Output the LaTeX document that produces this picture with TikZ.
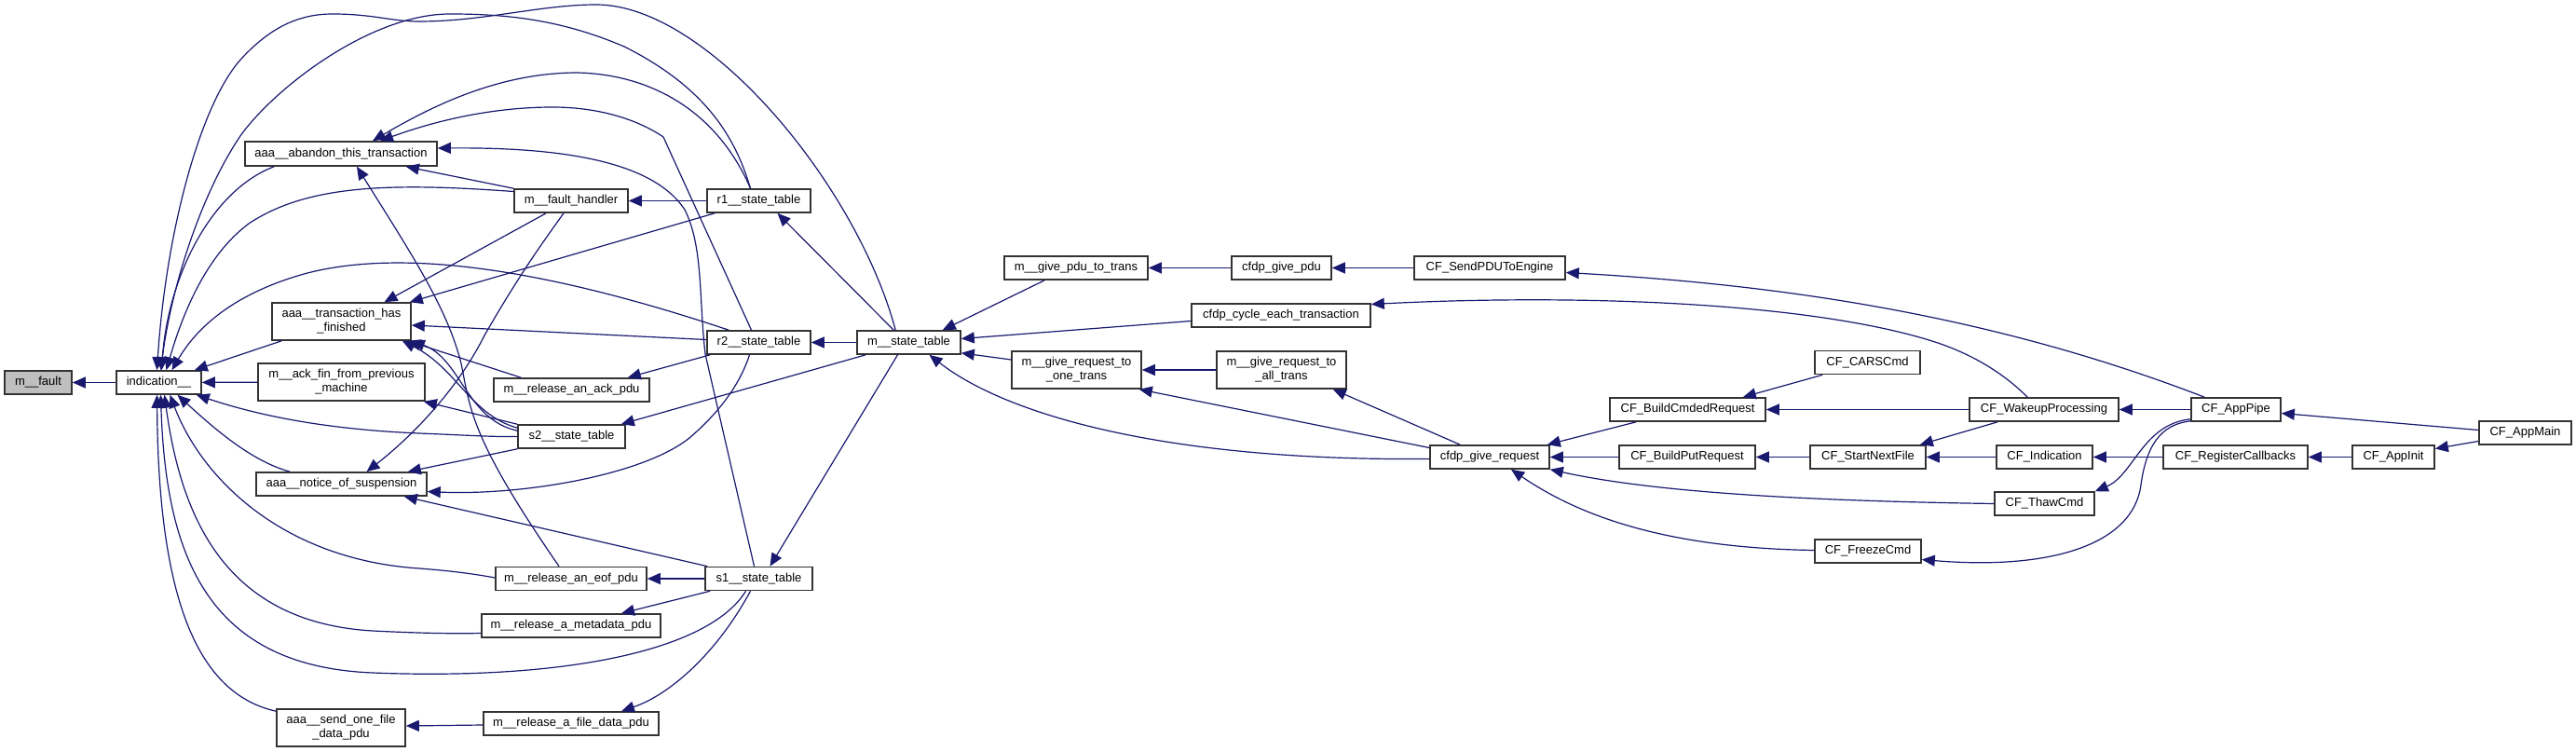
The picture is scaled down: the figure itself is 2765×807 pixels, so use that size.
\documentclass[tikz,border=0pt]{standalone}
\usepackage{fontspec}
\setmainfont{Liberation Sans}
\usetikzlibrary{arrows.meta,calc}
\definecolor{edgecol}{HTML}{191970}
\definecolor{boxline}{HTML}{333333}
\begin{document}
\begin{tikzpicture}[x=0.5pt,y=-0.5pt,
  box/.style={draw=boxline, fill=white, line width=0.8pt, inner sep=0pt,
    minimum height=12.5pt, align=center,
    font=\fontsize{6.5pt}{7.5pt}\selectfont},
  two/.style={minimum height=20pt},
  e/.style={draw=edgecol, line width=0.6pt, {Triangle[length=7pt,width=6pt]}-}]
\useasboundingbox[fill=white] (0,0) rectangle (2765,807);

% nodes
\node[box, minimum width=36pt, fill=gray!50] (fault) at (41,410.5) {m\_\_fault};
\node[box, minimum width=45.5pt] (ind) at (170.5,410.5) {indication\_\_};
\node[box, minimum width=103pt, minimum height=13pt] (abandon) at (366,165) {aaa\_\_abandon\_this\_transaction};
\node[box, two, minimum width=74.5pt] (thf) at (366.5,345) {aaa\_\_transaction\_has\\\_finished};
\node[box, two, minimum width=89.5pt] (ackfin) at (366.5,410) {m\_\_ack\_fin\_from\_previous\\\_machine};
\node[box, minimum width=91.5pt] (notice) at (366.5,519.5) {aaa\_\_notice\_of\_suspension};
\node[box, two, minimum width=69pt] (sendone) at (366,781) {aaa\_\_send\_one\_file\\\_data\_pdu};
\node[box, minimum width=61pt] (faulth) at (613,215.5) {m\_\_fault\_handler};
\node[box, minimum width=83.5pt] (ackpdu) at (613.5,418.5) {m\_\_release\_an\_ack\_pdu};
\node[box, minimum width=57.5pt] (s2) at (613.5,468.5) {s2\_\_state\_table};
\node[box, minimum width=81pt] (eofpdu) at (613,621) {m\_\_release\_an\_eof\_pdu};
\node[box, minimum width=96pt] (metapdu) at (613,671.5) {m\_\_release\_a\_metadata\_pdu};
\node[box, minimum width=94pt] (filepdu) at (613,776.5) {m\_\_release\_a\_file\_data\_pdu};
\node[box, minimum width=55.5pt] (r1) at (814.5,215.5) {r1\_\_state\_table};
\node[box, minimum width=55.5pt] (r2) at (814.5,367.5) {r2\_\_state\_table};
\node[box, minimum width=57.5pt] (s1) at (814.5,621) {s1\_\_state\_table};
\node[box, minimum width=55.5pt] (mst) at (975.5,367.5) {m\_\_state\_table};
\node[box, minimum width=77pt] (givepdu) at (1155,287.5) {m\_\_give\_pdu\_to\_trans};
\node[box, two, minimum width=69.5pt] (onetrans) at (1155.5,397) {m\_\_give\_request\_to\\\_one\_trans};
\node[box, minimum width=53.5pt] (cfdppdu) at (1375.5,287.5) {cfdp\_give\_pdu};
\node[box, minimum width=96pt] (cycle) at (1375,338.5) {cfdp\_cycle\_each\_transaction};
\node[box, two, minimum width=69.5pt] (alltrans) at (1375.5,397) {m\_\_give\_request\_to\\\_all\_trans};
\node[box, minimum width=81pt] (sendpdu) at (1599,287.5) {CF\_SendPDUToEngine};
\node[box, minimum width=64pt] (givereq) at (1599,490.5) {cfdp\_give\_request};
\node[box, minimum width=83.5pt] (buildcmd) at (1811.5,439.5) {CF\_BuildCmdedRequest};
\node[box, minimum width=73pt] (buildput) at (1811,490.5) {CF\_BuildPutRequest};
\node[box, minimum width=56.5pt] (cars) at (2004.5,389) {CF\_CARSCmd};
\node[box, minimum width=62pt] (startnext) at (2005,490.5) {CF\_StartNextFile};
\node[box, minimum width=57pt] (freeze) at (2005,591.5) {CF\_FreezeCmd};
\node[box, minimum width=80pt] (wakeup) at (2194,439.5) {CF\_WakeupProcessing};
\node[box, minimum width=51.5pt] (indCF) at (2194.5,490.5) {CF\_Indication};
\node[box, minimum width=53.5pt] (thaw) at (2194.5,540.5) {CF\_ThawCmd};
\node[box, minimum width=48pt] (apppipe) at (2400,439.5) {CF\_AppPipe};
\node[box, minimum width=77.5pt] (regcb) at (2399.5,490.5) {CF\_RegisterCallbacks};
\node[box, minimum width=44pt] (appinit) at (2569,490.5) {CF\_AppInit};
\node[box, minimum width=49.5pt] (appmain) at (2710.5,464.5) {CF\_AppMain};

% edges (arrow at the callee)
\draw[e] (fault) -- (ind);
\draw[e] (ind) -- (ackfin);
\draw[e] ($(ind.north)+(3,0)$) .. controls (180,300) and (225,205) .. ($(abandon.south west)+(32,0)$);
\draw[e] ($(ind.north east)+(-8,0)$) -- ($(thf.south west)+(11,0)$);
\draw[e] ($(ind.north)+(8,0)$) .. controls (195,340) and (220,275) .. (267,240) .. controls (330,198) and (420,196) .. ($(faulth.west)+(0,-10)$);
\draw[e] ($(ind.north)+(14,0)$) .. controls (215,345) and (260,312) .. (330,293) .. controls (420,270) and (560,280) .. ($(r2.north west)+(24,0)$);
\draw[e] ($(ind.north)+(-2,0)$) .. controls (178,250) and (215,110) .. (260,62) .. controls (290,30) and (320,15) .. (357,15) .. controls (400,15) and (420,23) .. (450,23) .. controls (520,23) and (580,5) .. (640,5) .. controls (760,5) and (920,200) .. ($(mst.north west)+(42,0)$);
\draw[e] ($(ind.north)+(2,0)$) .. controls (185,300) and (220,200) .. (260,143) .. controls (300,90) and (400,15) .. (483,15) .. controls (540,15) and (600,20) .. (670,50) .. controls (760,95) and (790,150) .. ($(r1.north)+(-9,0)$);
\draw[e] ($(ind.south)+(-2,0)$) .. controls (170,650) and (215,745) .. ($(sendone.north west)+(0,3)$);
\draw[e] ($(ind.south)+(2,0)$) .. controls (178,600) and (225,715) .. (400,722) .. controls (600,730) and (760,700) .. ($(s1.south)+(-14,0)$);
\draw[e] ($(ind.south)+(6,0)$) .. controls (195,560) and (245,668) .. (400,677) .. controls (460,680) and (495,680) .. ($(metapdu.west)+(0,8)$);
\draw[e] ($(ind.south)+(12,0)$) .. controls (215,510) and (300,600) .. (450,610) .. controls (490,613) and (515,617) .. ($(eofpdu.west)+(0,-1)$);
\draw[e] ($(ind.south)+(20,0)$) .. controls (230,460) and (270,495) .. ($(notice.north west)+(37,0)$);
\draw[e] ($(ind.south east)+(-6,0)$) .. controls (260,440) and (330,460) .. (450,465) .. controls (500,467) and (530,469) .. (s2.west);

\draw[e] ($(abandon.north)+(34,0)$) .. controls (470,110) and (540,78) .. (620,78) .. controls (700,80) and (770,120) .. ($(r1.north)+(-9,0)$);
\draw[e] ($(abandon.north)+(42,0)$) .. controls (480,125) and (540,115) .. (593,115) .. controls (650,115) and (690,132) .. (712,147) -- ($(r2.north)+(-8,0)$);
\draw[e] ($(abandon.east)+(0,-6)$) .. controls (600,158) and (700,172) .. (735,225) .. controls (755,265) and (750,320) .. (757,380) -- ($(s1.north)+(-5,0)$);
\draw[e] ($(abandon.south east)+(-34,0)$) -- (faulth.north west);
\draw[e] ($(abandon.south)+(17,0)$) .. controls (440,270) and (480,330) .. (495,390) .. controls (505,440) and (505,470) .. ($(eofpdu.north)+(-13,0)$);

\draw[e] ($(thf.north)+(46,0)$) -- ($(faulth.south west)+(35,0)$);
\draw[e] ($(thf.north east)+(-2,0)$) -- ($(r1.south west)+(9,0)$);
\draw[e] ($(thf.east)+(0,4)$) -- ($(r2.west)+(0,-3)$);
\draw[e] ($(thf.south east)+(-4,0)$) -- ($(ackpdu.north west)+(30,0)$);
\draw[e] ($(thf.south east)+(-10,0)$) .. controls (490,395) and (505,445) .. ($(s2.north west)+(0,4)$);
\draw[e] (thf.south east) .. controls (495,385) and (500,450) .. ($(s2.north west)+(0,7)$);
\draw[e] ($(ackfin.south east)+(-2,0)$) -- (s2.north west);

\draw[e] ($(notice.north)+(27,0)$) .. controls (440,470) and (490,420) .. (520,360) .. controls (560,290) and (590,250) .. ($(faulth.south)+(-8,0)$);
\draw[e] ($(notice.north east)+(-21,0)$) -- (s2.south west);
\draw[e] ($(notice.east)+(0,8)$) .. controls (560,532) and (690,510) .. (740,470) .. controls (775,440) and (795,410) .. ($(r2.south)+(-10,0)$);
\draw[e] ($(notice.south east)+(-25,0)$) -- ($(s1.north west)+(3,0)$);

\draw[e] ($(ackpdu.north east)+(-24,0)$) -- ($(r2.south west)+(4,0)$);
\draw[e] (faulth) -- (r1);
\draw[e] (eofpdu) -- (s1);
\draw[e] ($(metapdu.north)+(54,0)$) -- ($(s1.south west)+(6,0)$);
\draw[e] ($(filepdu.north)+(54,0)$) .. controls (720,745) and (770,700) .. ($(s1.south)+(-9,0)$);
\draw[e] ($(sendone.east)+(0,-2)$) -- ($(filepdu.west)+(0,1.5)$);

\draw[e] ($(r1.south)+(20,0)$) -- ($(mst.north west)+(40,0)$);
\draw[e] (r2) -- (mst);
\draw[e] ($(s2.north east)+(-5,0)$) -- ($(mst.south west)+(10,0)$);
\draw[e] ($(s1.north)+(12,0)$) -- ($(mst.south)+(-12,0)$);
\draw[e] ($(mst.north east)+(-20,0)$) -- ($(givepdu.south west)+(44,0)$);
\draw[e] ($(mst.east)+(0,-4)$) -- ($(cycle.west)+(0,6)$);
\draw[e] ($(mst.south east)+(0,-2)$) -- ($(onetrans.west)+(0,-11)$);
\draw[e] ($(mst.south)+(22,0)$) .. controls (1080,445) and (1250,495) .. ($(givereq.west)+(0,2)$);

\draw[e] (givepdu) -- (cfdppdu);
\draw[e] (cfdppdu) -- (sendpdu);
\draw[e] (onetrans) -- (alltrans);
\draw[e] ($(onetrans.south east)+(-3,0)$) -- ($(givereq.west)+(0,-10)$);
\draw[e] ($(alltrans.south east)+(-15,0)$) -- ($(givereq.north west)+(33,0)$);
\draw[e] ($(sendpdu.east)+(0,5)$) .. controls (1900,305) and (2130,335) .. ($(apppipe.north west)+(15,0)$);
\draw[e] ($(cycle.east)+(0,-12)$) .. controls (1700,315) and (1950,325) .. (2080,368) .. controls (2130,385) and (2160,410) .. ($(wakeup.north west)+(63,0)$);

\draw[e] ($(givereq.north east)+(-3,0)$) -- ($(buildcmd.south west)+(29,0)$);
\draw[e] (givereq) -- (buildput);
\draw[e] (givereq.south east) .. controls (1760,525) and (1900,537) .. (thaw.west);
\draw[e] ($(givereq.south)+(23,0)$) .. controls (1690,550) and (1780,588) .. ($(freeze.west)+(0,-1)$);
\draw[e] ($(buildcmd.north east)+(-25,0)$) -- ($(cars.south west)+(9,0)$);
\draw[e] (buildcmd) -- (wakeup);
\draw[e] (buildput) -- (startnext);
\draw[e] ($(startnext.north east)+(-7,0)$) -- ($(wakeup.south west)+(31,0)$);
\draw[e] (startnext) -- (indCF);
\draw[e] (wakeup) -- (apppipe);
\draw[e] (indCF) -- (regcb);
\draw[e] (thaw.north east) .. controls (2290,510) and (2300,455) .. ($(apppipe.south west)+(0,-3)$);
\draw[e] ($(freeze.east)+(0,9)$) .. controls (2200,612) and (2290,585) .. (2298,520) .. controls (2305,470) and (2325,455) .. ($(apppipe.south west)+(0,-1)$);
\draw[e] ($(apppipe.east)+(0,4)$) -- ($(appmain.west)+(0,-3)$);
\draw[e] (regcb) -- (appinit);
\draw[e] ($(appinit.east)+(0,-9)$) -- ($(appmain.west)+(0,9)$);
\end{tikzpicture}
\end{document}
